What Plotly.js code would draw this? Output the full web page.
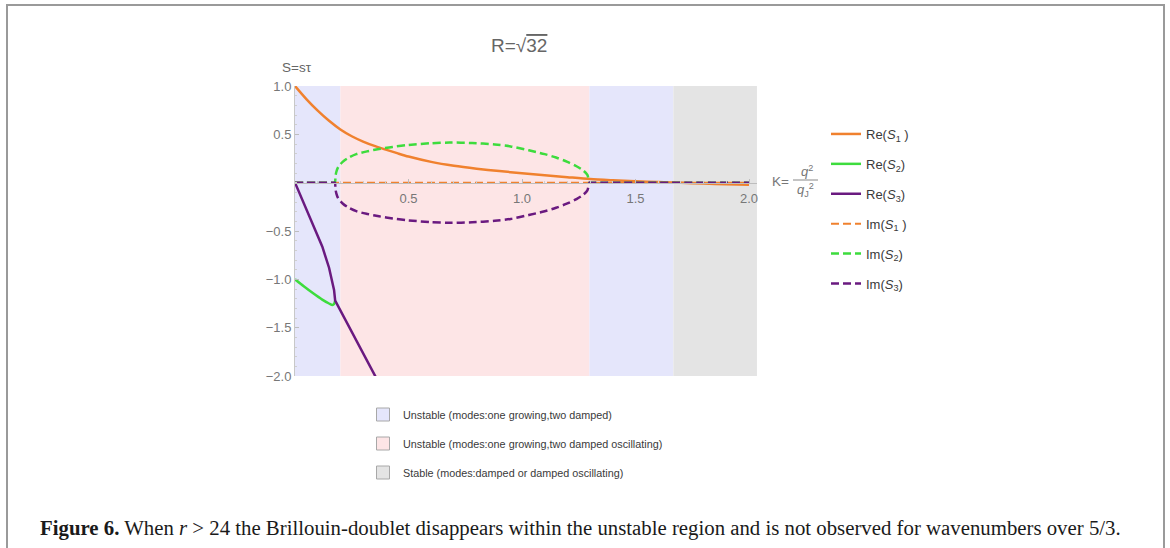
<!DOCTYPE html>
<html>
<head>
<meta charset="utf-8">
<script src="https://cdn.plot.ly/plotly-3.0.1.min.js"></script>
<style>
  html, body { margin: 0; padding: 0; background: #ffffff; }
  #frame { position: absolute; left: 6px; top: 4px; width: 1155px; height: 560px;
           border: 2px solid #9a9a9a; border-bottom: none; }
  #chart { position: absolute; left: 0; top: 0; width: 1170px; height: 548px; }
</style>
</head>
<body>
<div id="frame"></div>
<div id="chart"></div>
<script>
// ---------- data ----------
// Re(S1)
const kRe1 = [0, 0.05, 0.1, 0.15, 0.2, 0.25, 0.3, 0.35, 0.4, 0.45, 0.5, 0.6, 0.7, 0.8, 0.9, 1.0, 1.1, 1.2, 1.3, 1.4, 1.5, 1.6, 1.7, 1.8, 1.9, 2.0];
const re1  = [1.0, 0.865, 0.745, 0.64, 0.55, 0.48, 0.425, 0.38, 0.342, 0.305, 0.27, 0.215, 0.175, 0.145, 0.12, 0.098, 0.078, 0.057, 0.037, 0.025, 0.015, 0.006, -0.002, -0.009, -0.016, -0.022];
// Re(S2)
const kRe2 = [0, 0.04, 0.08, 0.12, 0.15, 0.165, 0.172, 0.177];
const re2  = [-1.0, -1.075, -1.145, -1.21, -1.25, -1.265, -1.255, -1.22];
// Re(S3)
const kRe3 = [0, 0.04, 0.08, 0.12, 0.15, 0.165, 0.172, 0.177, 0.2, 0.25, 0.3, 0.36];
const re3  = [0, -0.215, -0.43, -0.66, -0.88, -1.03, -1.11, -1.22, -1.32, -1.54, -1.76, -2.03];
// Im(S1)
const kIm1 = [0, 2.0];
const im1  = [0, 0];
// Im(S2), Im(S3)
const kIm  = [0, 0.05, 0.1, 0.15, 0.17, 0.176, 0.178, 0.182, 0.19, 0.2, 0.21, 0.23, 0.27, 0.32, 0.37, 0.43, 0.5, 0.6, 0.68, 0.78, 0.88, 0.95, 1.03, 1.1, 1.15, 1.2, 1.24, 1.27, 1.288, 1.297, 1.303, 1.35, 1.45, 1.6, 1.8, 2.0];
const im2  = [0, 0, 0, 0, 0, 0, 0.06, 0.11, 0.16, 0.19, 0.215, 0.25, 0.295, 0.325, 0.348, 0.37, 0.39, 0.408, 0.415, 0.41, 0.395, 0.375, 0.335, 0.295, 0.26, 0.215, 0.17, 0.125, 0.08, 0, 0, 0, 0, 0, 0, 0];
const im3  = [0, 0, 0, 0, 0, 0, -0.06, -0.11, -0.16, -0.19, -0.215, -0.25, -0.295, -0.325, -0.348, -0.37, -0.39, -0.408, -0.415, -0.41, -0.395, -0.375, -0.335, -0.295, -0.26, -0.215, -0.17, -0.125, -0.08, 0, 0, 0, 0, 0, 0, 0];

const seriesNames = ['Re(<i>S</i><sub>1</sub> )', 'Re(<i>S</i><sub>2</sub>)', 'Re(<i>S</i><sub>3</sub>)',
                     'Im(<i>S</i><sub>1</sub> )', 'Im(<i>S</i><sub>2</sub>)', 'Im(<i>S</i><sub>3</sub>)'];

// stability regions (K limits)
const regionStart = [0, 0.2, 1.297, 5/3];
const regionEnd   = [0.2, 1.297, 5/3, 2.035];
const regionKind  = [0, 1, 0, 2];
const regionNames = ['Unstable (modes:one growing,two damped)',
                     'Unstable (modes:one growing,two damped oscillating)',
                     'Stable (modes:damped or damped oscillating)'];

const xTickVals = [0.5, 1.0, 1.5, 2.0];
const xTickText = ['0.5', '1.0', '1.5', '2.0'];
const yTickVals = [-2.0, -1.5, -1.0, -0.5, 0.5, 1.0];
const yTickText = ['\u22122.0', '\u22121.5', '\u22121.0', '\u22120.5', '0.5', '1.0'];

// ---------- styling ----------
const ORANGE = '#f0812e', GREEN = '#3ddc3d', PURPLE = '#6a1a80';
const regionColors = ['#e5e6fb', '#fde5e6', '#e4e4e4'];
const FONT = '"Liberation Sans", Arial, sans-serif';

// plot-area geometry in pixels
const ML = 295, MR = 413, MT = 86, MB = 172;
const PW = 1170 - ML - MR, PH = 548 - MT - MB;
const px = p => (p - ML) / PW;
const py = p => (548 - MB - p) / PH;

function line(x, y, name, color, width, dash, i, shape) {
  return { x: x, y: y, name: name, type: 'scatter', mode: 'lines',
           line: { color: color, width: width, dash: dash, shape: shape || 'spline', smoothing: 0.8 },
           legend: 'legend', legendgroup: 'g' + i, cliponaxis: true };
}

const traces = [
  line(kRe1, re1, seriesNames[0], ORANGE, 2.5, 'solid', 0),
  line(kRe2, re2, seriesNames[1], GREEN, 2.5, 'solid', 1),
  line(kRe3, re3, seriesNames[2], PURPLE, 2.5, 'solid', 2, 'linear'),
  line(kIm1, im1, seriesNames[3], ORANGE, 2, '8px,4px', 3, 'linear'),
  line(kIm,  im2, seriesNames[4], GREEN, 2.5, '8px,4px', 4),
  line(kIm,  im3, seriesNames[5], PURPLE, 2.5, '8px,4px', 5)
];

// legend entries for the shaded regions
regionNames.forEach((n, i) => {
  traces.push({ x: [null], y: [null], type: 'scatter', mode: 'markers', name: n,
    legend: 'legend2', legendgroup: 'r' + i,
    marker: { symbol: 'square', size: 13, color: regionColors[i], line: { color: '#a8a8a8', width: 1 } } });
});

const shapes = regionStart.map((s, i) => ({
  type: 'rect', xref: 'x', yref: 'paper', x0: s, x1: regionEnd[i], y0: 0, y1: 1,
  fillcolor: regionColors[regionKind[i]], line: { width: 0 }, layer: 'below'
}));
// fraction bar of K label
shapes.push({ type: 'line', xref: 'paper', yref: 'paper', x0: px(793), x1: px(818), y0: py(180), y1: py(180),
              line: { color: '#888', width: 1 } });

function ann(text, x, y, size, color, extra) {
  return Object.assign({ text: text, xref: 'paper', yref: 'paper', x: px(x), y: py(y),
    xanchor: 'center', yanchor: 'middle', showarrow: false,
    font: { family: FONT, size: size, color: color } }, extra || {});
}

const annotations = [
  ann('R=\u221A<span style="text-decoration:overline">32</span>', 519, 45, 19, '#666'),
  ann('S=s\u03C4', 297, 67, 13.5, '#666'),
  ann('K=', 780, 181, 13.5, '#777'),
  ann('<i>q</i><sup>2</sup>', 807, 171, 13, '#777'),
  ann('<i>q</i><sub>J</sub><sup>2</sup>', 805, 190, 13, '#777'),
  ann('<b>Figure 6.</b> When <i>r</i> &gt; 24 the Brillouin-doublet disappears within the unstable region and is not observed for wavenumbers over 5/3.',
      38, 528, 20.8, '#1a1a1a',
      { xanchor: 'left', font: { family: '"Liberation Serif", "Times New Roman", serif', size: 20.8, color: '#1a1a1a' } })
];

const layout = {
  width: 1170, height: 548,
  margin: { l: ML, r: MR, t: MT, b: MB, pad: 0 },
  paper_bgcolor: 'rgba(0,0,0,0)', plot_bgcolor: 'rgba(0,0,0,0)',
  font: { family: FONT, size: 13, color: '#666' },
  showlegend: true,
  xaxis: {
    range: [0, PW / 227], anchor: 'free', position: 2/3, showgrid: false, zeroline: false,
    showline: true, linecolor: '#bdbdbd', linewidth: 1,
    tickmode: 'array', tickvals: xTickVals, ticktext: xTickText,
    ticks: 'inside', ticklen: 4, tickcolor: '#bdbdbd', ticklabelstandoff: 4,
    tickfont: { family: FONT, size: 13, color: '#777' },
    minor: { tickmode: 'linear', tick0: 0, dtick: 0.1, ticks: 'inside', ticklen: 2, tickcolor: '#cfcfcf', showgrid: false }
  },
  yaxis: {
    range: [-2, 1], showgrid: false, zeroline: false,
    showline: true, linecolor: '#c8c8c8', linewidth: 1,
    tickmode: 'array', tickvals: yTickVals, ticktext: yTickText,
    ticks: 'inside', ticklen: 4, tickcolor: '#bdbdbd',
    tickfont: { family: FONT, size: 13, color: '#777' },
    minor: { tickmode: 'linear', tick0: 0, dtick: 0.1, ticks: 'inside', ticklen: 2, tickcolor: '#cfcfcf', showgrid: false }
  },
  legend: {
    x: px(826), y: py(119), xanchor: 'left', yanchor: 'top',
    bgcolor: 'rgba(0,0,0,0)', tracegroupgap: 10,
    font: { family: FONT, size: 13, color: '#3a3a3a' }
  },
  legend2: {
    x: px(363), y: py(400), xanchor: 'left', yanchor: 'top',
    bgcolor: 'rgba(0,0,0,0)', tracegroupgap: 10,
    font: { family: FONT, size: 10.8, color: '#3a3a3a' }
  },
  shapes: shapes,
  annotations: annotations
};

Plotly.newPlot('chart', traces, layout, { staticPlot: true, displayModeBar: false });
</script>
</body>
</html>
